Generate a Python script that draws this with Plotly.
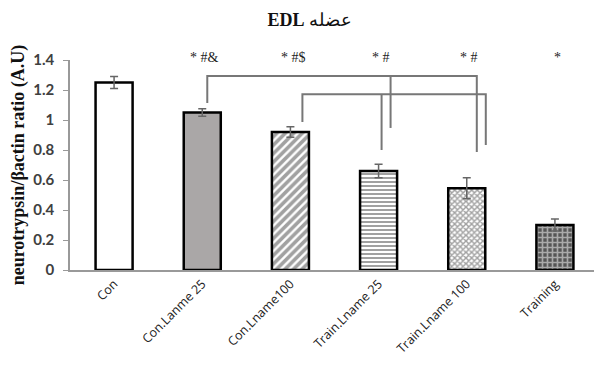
import plotly.graph_objects as go

categories = ["Con", "Con.Lanme 25", "Con.Lname100", "Train.Lname 25", "Train.Lname 100", "Training"]
values = [1.25, 1.05, 0.92, 0.66, 0.545, 0.30]
errors = [0.04, 0.025, 0.035, 0.045, 0.07, 0.04]
sig_labels = ["", "* #&", "* #$", "* #", "* #", "*"]
y_ticks = [0, 0.2, 0.4, 0.6, 0.8, 1, 1.2, 1.4]

fills = ["white", "#aaa7a7", "white", "white", "white", "#555555"]
pat_shapes = ["", "", "/", "-", "x", "+"]
pat_fg = ["black", "black", "#000000", "#666666", "#333333", "#333333"]
pat_bg = ["white", "#aaa7a7", "white", "white", "white", "white"]
pat_size = [8, 8, 6, 4, 4, 5]
pat_solid = [0.3, 0.3, 0.6, 0.5, 0.6, 0.55]

fig = go.Figure()
fig.add_trace(go.Bar(
    x=categories, y=values, width=0.42,
    marker=dict(
        color=fills,
        line=dict(color="black", width=2.5),
        pattern=dict(shape=pat_shapes, fgcolor=pat_fg, bgcolor=pat_bg,
                     size=pat_size, solidity=pat_solid, fillmode="overlay"),
    ),
    error_y=dict(type="data", array=errors, color="#666666", thickness=1.5, width=4),
    cliponaxis=False,
))

# significance labels
for i, lab in enumerate(sig_labels):
    if lab:
        fig.add_annotation(x=i + 0.03, y=1.415 / 1.4, text=lab, showarrow=False,
                           xref="x", yref="paper", yanchor="middle",
                           font=dict(family="Liberation Serif", size=14, color="#222"))

# brackets (x in category units, y in data units)
bracket_lines = [
    [(1.057, 1.113), (1.057, 1.293), (4.114, 1.293), (4.114, 0.787)],
    [(3.136, 1.293), (3.136, 0.947)],
    [(2.136, 0.987), (2.136, 1.171), (4.216, 1.171), (4.216, 0.833)],
    [(3.034, 1.171), (3.034, 0.80)],
]
for pts in bracket_lines:
    path = "M " + " L ".join(f"{x},{y}" for x, y in pts)
    fig.add_shape(type="path", path=path, xref="x", yref="y",
                  line=dict(color="#777777", width=2))

# page body has an 8px margin: size figure so the plot lands where the reference has it
fig.update_layout(
    width=594, height=357,
    margin=dict(l=62, r=3, t=52, b=95),
    plot_bgcolor="white", paper_bgcolor="white",
    showlegend=False,
    title=dict(text="<b>EDL</b> عضله", x=0.508, xanchor="center", y=0.966, yanchor="middle",
               font=dict(family="Liberation Serif", size=18, color="#111")),
    xaxis=dict(range=[-0.5, 5.5], showline=True, linecolor="#999999", linewidth=1.5,
               ticks="", tickangle=-45, automargin=False,
               tickfont=dict(family="Open Sans, Noto Sans, sans-serif", size=12.5, color="#222")),
    yaxis=dict(range=[0, 1.4], tickvals=y_ticks, ticktext=[f"{v:g}" for v in y_ticks],
               showline=True, linecolor="#999999", linewidth=1.5, ticks="outside",
               ticklen=5, tickcolor="#999999", showgrid=False, zeroline=False,
               automargin=False, ticklabelstandoff=6,
               tickfont=dict(family="Lato, Open Sans, sans-serif", size=15, color="#404040", weight="bold"),
               title=dict(text="<b>neurotrypsin/βactin ratio (A.U)</b>", standoff=8,
                          font=dict(family="Liberation Serif", size=18, color="#111"))),
)

fig.write_html("out.html")
